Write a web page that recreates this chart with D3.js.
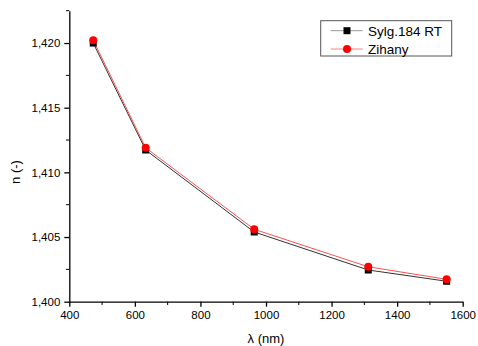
<!DOCTYPE html>
<html><head><meta charset="utf-8">
<script src="https://cdn.jsdelivr.net/npm/d3@7"></script>
<style>body{margin:0;background:#fff}svg{display:block}text{font-family:Arial,"Liberation Sans",sans-serif}</style>
</head><body><svg id="c" width="478" height="346"></svg>
<script>
const wavelengths = [473, 633, 964, 1312, 1551];
const sylgard = [1.4200, 1.41173, 1.40539, 1.40245, 1.40158];
const zihany = [1.42022, 1.4119, 1.4056, 1.4027, 1.40173];
const seriesNames = ["Sylg.184 RT", "Zihany"];
const xTicks = [400, 600, 800, 1000, 1200, 1400, 1600];
const yTicks = [1.400, 1.405, 1.410, 1.415, 1.420];

const svg = d3.select("#c");
const x = d3.scaleLinear().domain([400, 1600]).range([69.3, 462.7]);
const y = d3.scaleLinear().domain([1.400, 1.4225]).range([301.7, 10.7]);

// minor ticks
const xMinor = d3.range(500, 1600, 200);
const yMinor = [1.4025, 1.4075, 1.4125, 1.4175, 1.4225];
const ax = svg.append("g").attr("stroke", "#000");
ax.selectAll(".xm").data(xMinor).join("line").attr("x1", d => x(d)).attr("x2", d => x(d)).attr("y1", 301.7).attr("y2", 305);
ax.selectAll(".ym").data(yMinor).join("line").attr("y1", d => y(d)).attr("y2", d => y(d)).attr("x1", 69.3).attr("x2", 66);

const fmt = d => d3.format(".3f")(d).replace(".", ",");
const gx = svg.append("g").attr("transform", "translate(0,301.7)")
  .call(d3.axisBottom(x).tickValues(xTicks).tickSize(5).tickSizeOuter(0).tickFormat(d3.format("d")));
const gy = svg.append("g").attr("transform", "translate(69.3,0)")
  .call(d3.axisLeft(y).tickValues(yTicks).tickSize(5).tickSizeOuter(0).tickFormat(fmt));
[gx, gy].forEach(g => {
  g.select(".domain").attr("stroke", "#000").attr("stroke-width", 1.3);
  g.selectAll(".tick line").attr("stroke", "#000").attr("stroke-width", 1.3);
  g.selectAll("text").attr("font-size", 11.5).attr("fill", "#000").attr("font-family", "Arial, Liberation Sans, sans-serif");
});
gx.selectAll("text").attr("dy", "0.85em");
gy.selectAll("text").attr("dx", "-1");

svg.append("text").attr("x", 266).attr("y", 343).attr("text-anchor", "middle").attr("font-size", 13).text("λ (nm)");
svg.append("text").attr("transform", "translate(20,172) rotate(-90)").attr("text-anchor", "middle").attr("font-size", 13).text("n (-)");

const line = d3.line().x(d => x(d[0])).y(d => y(d[1]));
const s1 = wavelengths.map((w, i) => [w, sylgard[i]]);
const s2 = wavelengths.map((w, i) => [w, zihany[i]]);
svg.append("path").attr("d", line(s1)).attr("fill", "none").attr("stroke", "#333").attr("stroke-width", 1);
svg.append("path").attr("d", line(s2)).attr("fill", "none").attr("stroke", "#ff5050").attr("stroke-width", 1);
svg.selectAll(".sq").data(s1).join("rect").attr("x", d => x(d[0]) - 3.5).attr("y", d => y(d[1]) - 3.5).attr("width", 7).attr("height", 7).attr("fill", "#000");
svg.selectAll(".ci").data(s2).join("circle").attr("cx", d => x(d[0])).attr("cy", d => y(d[1])).attr("r", 4).attr("fill", "#f00");

// legend
const lg = svg.append("g");
lg.append("rect").attr("x", 320.7).attr("y", 20.7).attr("width", 131).attr("height", 35.3).attr("fill", "#fff").attr("stroke", "#555").attr("stroke-width", 1);
const rows = [30.7, 49];
lg.append("line").attr("x1", 330.7).attr("x2", 362.7).attr("y1", rows[0]).attr("y2", rows[0]).attr("stroke", "#999");
lg.append("rect").attr("x", 347 - 3.5).attr("y", rows[0] - 3.5).attr("width", 7).attr("height", 7).attr("fill", "#000");
lg.append("line").attr("x1", 330.7).attr("x2", 362.7).attr("y1", rows[1]).attr("y2", rows[1]).attr("stroke", "#ff8080");
lg.append("circle").attr("cx", 347).attr("cy", rows[1]).attr("r", 4).attr("fill", "#f00");
lg.selectAll(".lt").data(seriesNames).join("text").attr("x", 368).attr("y", (d, i) => rows[i] + 5).attr("font-size", 13.5).text(d => d);
</script></body></html>
